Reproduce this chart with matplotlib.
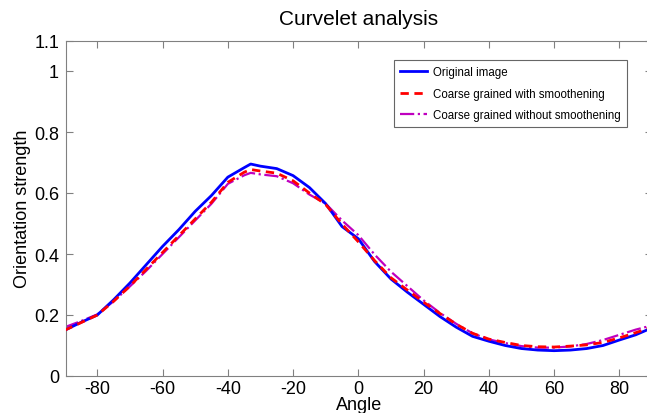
import numpy as np
import matplotlib
matplotlib.use("Agg")
import matplotlib.pyplot as plt

plt.rcParams['font.family'] = ['Liberation Sans', 'DejaVu Sans']
plt.rcParams['axes.unicode_minus'] = False

angles = [-90, -85, -80, -75, -70, -65, -60, -55, -50, -45, -40, -35, -33, -30,
          -25, -20, -15, -10, -5, 0, 5, 10, 15, 20, 25, 30, 35, 40, 45, 50, 55,
          60, 65, 70, 75, 80, 85, 90]

original = [0.150, 0.176, 0.200, 0.250, 0.305, 0.365, 0.425, 0.480, 0.540, 0.592,
            0.652, 0.683, 0.695, 0.688, 0.680, 0.657, 0.618, 0.565, 0.490, 0.450,
            0.375, 0.318, 0.275, 0.235, 0.195, 0.160, 0.130, 0.114, 0.100, 0.090,
            0.085, 0.083, 0.085, 0.090, 0.100, 0.118, 0.135, 0.158]

smooth = [0.150, 0.175, 0.200, 0.245, 0.295, 0.350, 0.405, 0.460, 0.515, 0.570,
          0.635, 0.668, 0.677, 0.672, 0.665, 0.640, 0.600, 0.562, 0.498, 0.440,
          0.378, 0.322, 0.282, 0.242, 0.205, 0.170, 0.140, 0.121, 0.110, 0.100,
          0.096, 0.095, 0.098, 0.102, 0.110, 0.125, 0.142, 0.160]

nosmooth = [0.160, 0.180, 0.202, 0.245, 0.294, 0.345, 0.400, 0.455, 0.510, 0.565,
            0.630, 0.658, 0.666, 0.661, 0.655, 0.632, 0.595, 0.565, 0.510, 0.462,
            0.398, 0.342, 0.295, 0.248, 0.207, 0.171, 0.140, 0.120, 0.108, 0.098,
            0.093, 0.093, 0.097, 0.105, 0.118, 0.135, 0.152, 0.166]

fig = plt.figure(figsize=(6.47, 4.14), dpi=100)
ax = fig.add_axes([66 / 647, 37 / 414, 586 / 647, 335.5 / 414])

ax.plot(angles, original, color='b', lw=2.0, label='Original image', zorder=3)
ax.plot(angles, smooth, color='r', lw=2.0, ls='--', dashes=(3, 2),
        label='Coarse grained with smoothening', zorder=4)
ax.plot(angles, nosmooth, color='m', lw=1.6, ls='-.',
        label='Coarse grained without smoothening', zorder=2)

ax.set_xlim(-89.6, 90)
ax.set_ylim(0, 1.1)
ax.set_xticks(np.arange(-80, 81, 20))
ax.set_yticks([0, 0.2, 0.4, 0.6, 0.8, 1, 1.1])
ax.set_yticklabels(['0', '0.2', '0.4', '0.6', '0.8', '1', '1.1'])
ax.tick_params(direction='in', length=5, width=0.8, color='#808080',
               labelsize=13, top=True, right=True)
ax.tick_params(axis='x', pad=3)
ax.tick_params(axis='y', pad=5)
for s in ax.spines.values():
    s.set_color('#808080')

ax.set_title('Curvelet analysis', fontsize=15, pad=12)
ax.set_xlabel('Angle', fontsize=13, labelpad=-1)
ax.set_ylabel('Orientation strength', fontsize=13, labelpad=2)

leg = ax.legend(loc='upper left', bbox_to_anchor=(328 / 586, 1 - 19.5 / 335.5),
                borderaxespad=0, fontsize=8.3, frameon=True, fancybox=False,
                handlelength=2.4, borderpad=0.5, labelspacing=0.85,
                handletextpad=0.5)
leg.get_frame().set_edgecolor('#404040')
leg.get_frame().set_linewidth(0.8)

fig.savefig('out.png', dpi=100)
